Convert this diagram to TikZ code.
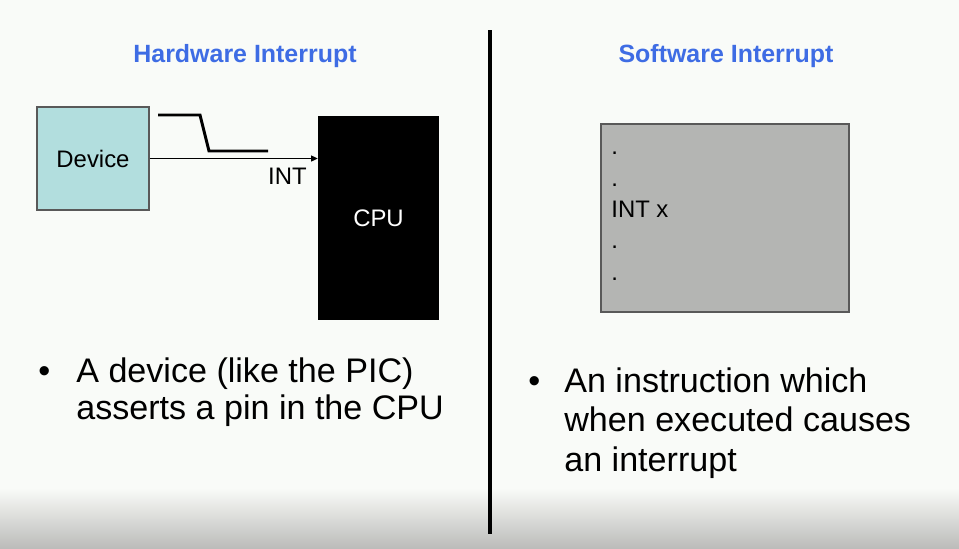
\documentclass[tikz,border=0pt]{standalone}
\usepackage{fontspec}
\setmainfont{Liberation Sans}
\usetikzlibrary{arrows.meta, positioning}

\definecolor{titleblue}{RGB}{62,108,228}
\definecolor{devcyan}{RGB}{178,222,222}
\definecolor{boxgray}{RGB}{180,181,179}
\definecolor{slidebg}{RGB}{249,251,248}
\definecolor{slidefoot}{RGB}{188,188,186}

\begin{document}
\begin{tikzpicture}[
    x=0.02cm, y=-0.02cm,
    heading/.style={font=\fontsize{14.2}{17}\selectfont\bfseries, text=titleblue, inner sep=0pt, anchor=base},
    device/.style={rectangle, draw=black!65, line width=0.7pt, fill=devcyan, minimum width=2.24cm, minimum height=2.06cm, inner sep=0pt, font=\fontsize{13.6}{16}\selectfont},
    cpu/.style={rectangle, fill=black, minimum width=2.42cm, minimum height=4.1cm, inner sep=0pt, text=white, font=\fontsize{13.6}{16}\selectfont},
    program/.style={rectangle, draw=black!65, line width=0.9pt, fill=boxgray, minimum width=4.96cm, minimum height=3.76cm},
    label/.style={font=\fontsize{13.6}{17.8}\selectfont, inner sep=0pt, align=left},
    bullet/.style={font=\fontsize{19.4}{21.3}\selectfont, inner sep=0pt, anchor=base west, align=left},
    arrow/.style={-{Triangle[length=1.3mm, width=1.2mm]}, line width=0.6pt},
    pulse/.style={line width=1.7pt}
]

% Slide background
\useasboundingbox (0,0) rectangle (959,548);
\fill[slidebg] (0,0) rectangle (959,548);
\shade[top color=slidebg, bottom color=slidefoot] (0,488) rectangle (959,548);

% Headings
\node[heading] (hwtitle) at (245, 62) {Hardware Interrupt};
\node[heading] (swtitle) at (726, 62) {Software Interrupt};

% Divider
\coordinate (divtop) at (490, 30);
\coordinate (divbot) at (490, 534);
\draw[line width=2.8pt] (divtop) -- (divbot);

% Hardware side
\node[device] (device) at (93, 158.5) {Device};
\node[cpu] (cpu) at (378.5, 218) {CPU};
\draw[arrow] (device.east) -- (device.east -| cpu.west);
\node[label, anchor=base east] (intlbl) at (307, 184) {INT};
\draw[pulse] (158, 115) -- (200, 115) -- (209, 151) -- (268, 151);

% Software side (base of a multi-line node = last line)
\node[program] (prog) at (725, 218) {};
\node[label, anchor=base west] (progtext) at (611, 280) {.\\.\\INT x\\.\\.};

% Bullets
\node[bullet] (hwdot) at (38, 382) {•};
\node[bullet] (hwtext) at (76, 419.5) {A device (like the PIC)\\asserts a pin in the CPU};
\node[bullet] (swdot) at (528, 392) {•};
\node[bullet, font=\fontsize{19.4}{22.4}\selectfont] (swtext) at (564, 471) {An instruction which\\when executed causes\\an interrupt};

\end{tikzpicture}
\end{document}
